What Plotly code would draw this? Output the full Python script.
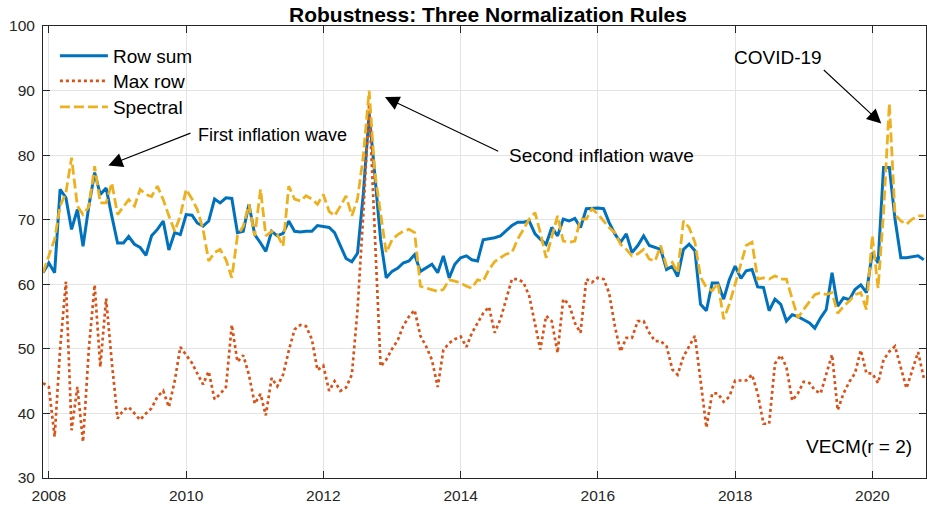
import pandas as pd
import plotly.graph_objects as go

# Monthly observations, Dec 2007 - Oct 2020
months = pd.date_range("2007-12-01", periods=155, freq="MS")

row_sum = [
    61.8, 63.3, 61.8, 74.7, 73.4, 68.5, 71.6, 65.9, 72.1, 77.3,
    73.9, 74.9, 70.6, 66.4, 66.4, 67.4, 66.2, 65.7, 64.5, 67.5,
    68.5, 69.8, 65.3, 68.0, 67.7, 70.8, 70.7, 69.5, 69.0, 69.8,
    73.2, 72.6, 73.4, 73.3, 68.0, 68.2, 72.4, 67.7, 66.4, 65.1,
    68.2, 67.5, 67.9, 69.8, 68.2, 68.1, 68.2, 68.2, 69.1, 69.0,
    68.8, 68.0, 66.0, 64.0, 63.5, 64.8, 74.0, 86.5, 77.0, 66.9,
    61.0, 62.0, 62.5, 63.3, 63.6, 64.6, 62.0, 62.5, 63.1, 61.8,
    64.4, 61.0, 63.1, 64.1, 64.4, 63.8, 63.6, 66.9, 67.0, 67.2,
    67.5, 68.3, 69.1, 69.6, 69.6, 69.8, 67.8, 67.0, 66.2, 68.8,
    67.5, 70.1, 69.8, 70.2, 68.8, 71.7, 71.8, 71.8, 71.7, 69.6,
    67.8, 66.5, 67.8, 64.9, 66.0, 67.5, 66.0, 65.7, 65.4, 62.3,
    62.8, 61.2, 65.4, 66.2, 65.2, 56.9, 55.9, 60.2, 60.2, 57.7,
    60.7, 62.8, 60.9, 62.1, 62.3, 59.6, 59.5, 55.9, 57.7, 56.9,
    54.3, 55.3, 55.0, 54.5, 54.0, 53.2, 54.8, 56.1, 61.8, 56.6,
    57.9, 57.6, 59.2, 59.9, 58.7, 64.9, 63.3, 78.1, 78.1, 70.1,
    64.1, 64.1, 64.2, 64.4, 63.8,
]

max_row = [
    44.7, 44.1, 36.4, 50.0, 60.4, 37.4, 44.1, 35.6, 50.0, 59.9,
    47.2, 57.8, 48.0, 39.2, 40.5, 41.0, 40.0, 39.0, 40.0, 40.8,
    42.6, 43.5, 41.0, 45.0, 50.3, 49.0, 47.8, 46.2, 44.5, 46.5,
    42.2, 43.0, 44.1, 53.7, 48.0, 49.0, 46.0, 41.5, 43.0, 39.7,
    45.5, 44.2, 46.0, 49.7, 53.0, 53.7, 53.5, 51.5, 46.7, 47.4,
    43.5, 45.0, 43.5, 44.0, 46.0, 56.0, 71.0, 88.0, 68.0, 47.3,
    48.3, 50.0, 51.4, 53.5, 55.0, 56.0, 52.0, 50.4, 48.3, 44.1,
    49.8, 50.9, 51.5, 51.9, 50.3, 52.4, 54.0, 55.5, 56.5, 52.5,
    54.6, 57.7, 60.8, 60.8, 60.3, 58.2, 54.0, 49.9, 55.1, 54.3,
    49.4, 57.7, 56.9, 54.0, 52.5, 60.8, 60.3, 61.0, 60.8, 58.7,
    53.5, 49.6, 51.7, 51.7, 54.3, 54.3, 52.5, 51.2, 51.2, 50.4,
    46.8, 46.0, 48.8, 50.4, 52.0, 45.1, 37.8, 43.1, 43.1, 41.8,
    42.6, 45.1, 45.1, 45.1, 46.0, 43.1, 38.4, 38.4, 47.7, 49.0,
    47.2, 42.0, 43.1, 44.9, 44.7, 43.6, 43.1, 46.2, 49.1, 40.5,
    43.1, 44.9, 46.2, 49.8, 46.2, 46.2, 44.7, 48.3, 49.6, 50.4,
    47.3, 43.9, 46.7, 49.5, 45.5,
]

spectral = [
    61.8, 64.5, 67.0, 72.1, 74.2, 79.6, 72.1, 70.8, 72.0, 78.3,
    72.6, 72.6, 75.7, 70.8, 72.1, 73.1, 72.1, 74.7, 73.9, 73.6,
    75.2, 73.1, 70.6, 68.2, 70.6, 74.7, 73.2, 71.6, 68.5, 63.6,
    64.9, 65.4, 63.8, 61.0, 67.5, 69.0, 72.4, 67.5, 74.7, 67.5,
    68.2, 67.7, 65.9, 75.2, 73.2, 72.9, 73.7, 73.2, 72.4, 73.9,
    71.3, 70.6, 72.1, 73.7, 70.6, 73.2, 79.9, 90.0, 77.3, 71.0,
    64.9, 66.9, 67.7, 68.2, 68.5, 68.0, 59.7, 59.4, 59.2, 58.9,
    59.2, 60.7, 60.5, 60.2, 59.7, 59.4, 60.7, 60.5, 62.3, 63.5,
    64.1, 64.7, 64.9, 67.0, 68.5, 70.1, 71.1, 68.0, 64.1, 67.5,
    70.6, 66.7, 66.5, 66.7, 70.1, 70.1, 71.7, 70.9, 69.8, 68.8,
    68.0, 66.2, 65.4, 64.4, 64.7, 65.4, 63.9, 63.6, 66.0, 62.8,
    63.4, 61.8, 69.8, 68.8, 66.5, 61.1, 59.5, 59.0, 60.2, 54.6,
    56.9, 60.0, 62.8, 66.0, 66.5, 60.8, 61.0, 60.8, 61.3, 60.8,
    60.8, 57.7, 54.8, 56.1, 57.4, 58.4, 58.7, 58.4, 58.7, 55.5,
    56.6, 57.4, 58.4, 58.7, 56.1, 67.5, 59.4, 71.1, 88.0, 70.8,
    69.8, 69.3, 70.1, 70.6, 70.6,
]

FONT = "Liberation Sans, Arial, sans-serif"
AXIS_COLOR = "#262626"
GRID_COLOR = "#e3e3e3"

# Each series gets its own legend box so the rows can be spaced freely
series = [
    dict(name="Row sum", y=row_sum, legend="legend",
         line=dict(color="#0072BD", width=3)),
    dict(name="Max row", y=max_row, legend="legend2",
         line=dict(color="#D95319", width=2.7, dash="3px,3px")),
    dict(name="Spectral", y=spectral, legend="legend3",
         line=dict(color="#EDB120", width=2.8, dash="10px,4px")),
]

fig = go.Figure()
for s in series:
    fig.add_trace(go.Scatter(x=months, y=s["y"], name=s["name"], mode="lines",
                             line=s["line"], legend=s["legend"]))

# Annotation arrows (tip at x/y, tail at ax/ay in data units) and their labels
arrows = [
    dict(x="2008-11-13", y=78.4, ax="2010-02-01", ay=83.5),
    dict(x="2012-11-24", y=89.0, ax="2014-07-28", ay=80.5),
    dict(x="2020-02-18", y=84.9, ax="2019-04-10", ay=93.4),
]
labels = [
    dict(x="2010-02-22", y=83.1, text="First inflation wave", xanchor="left", size=18),
    dict(x="2014-09-04", y=80.0, text="Second inflation wave", xanchor="left", size=19),
    dict(x="2018-08-15", y=95.1, text="COVID-19", xanchor="center", size=19),
    dict(x="2019-10-24", y=34.9, text="VECM(r = 2)", xanchor="center", size=19),
]

annotations = []
for a in arrows:
    annotations.append(dict(
        x=a["x"], y=a["y"], ax=a["ax"], ay=a["ay"], xref="x", yref="y",
        axref="x", ayref="y", text="", showarrow=True, arrowhead=2,
        arrowsize=2.6, arrowwidth=1.1, arrowcolor="#000000",
    ))
for t in labels:
    annotations.append(dict(
        x=t["x"], y=t["y"], xref="x", yref="y", text=t["text"],
        showarrow=False, xanchor=t["xanchor"], yanchor="middle",
        font=dict(family=FONT, size=t["size"], color="#000000"),
    ))

legend_style = dict(xanchor="left", yanchor="middle", x=0.0135,
                    bgcolor="rgba(0,0,0,0)", borderwidth=0, itemwidth=48,
                    font=dict(family=FONT, size=19, color="#000000"))

fig.update_layout(
    width=927, height=508,
    margin=dict(l=43, r=1, t=26, b=30),
    paper_bgcolor="white", plot_bgcolor="white",
    font=dict(family=FONT, color=AXIS_COLOR),
    title=dict(text="<b>Robustness: Three Normalization Rules</b>",
               x=0.5264, xanchor="center", y=1 - 15 / 508, yanchor="middle",
               yref="container", font=dict(family=FONT, size=21, color="#000000")),
    legend=dict(y=0.9336, **legend_style),
    legend2=dict(y=0.8783, **legend_style),
    legend3=dict(y=0.8208, **legend_style),
    annotations=annotations,
    showlegend=True,
)
fig.update_xaxes(
    type="date", range=["2007-12-01", "2020-10-13"],
    tick0="2008-01-01", dtick="M24", tickformat="%Y",
    showgrid=True, gridcolor=GRID_COLOR, gridwidth=1,
    showline=True, linecolor=AXIS_COLOR, linewidth=1, mirror="ticks",
    ticks="inside", ticklen=7, tickcolor=AXIS_COLOR, ticklabelstandoff=3,
    tickfont=dict(family=FONT, size=15.5, color=AXIS_COLOR),
    zeroline=False,
)
fig.update_yaxes(
    range=[30, 100], tick0=30, dtick=10,
    showgrid=True, gridcolor=GRID_COLOR, gridwidth=1,
    showline=True, linecolor=AXIS_COLOR, linewidth=1, mirror="ticks",
    ticks="inside", ticklen=7, tickcolor=AXIS_COLOR, ticklabelstandoff=4,
    tickfont=dict(family=FONT, size=15.5, color=AXIS_COLOR),
    zeroline=False,
)

fig.write_html("out.html")
